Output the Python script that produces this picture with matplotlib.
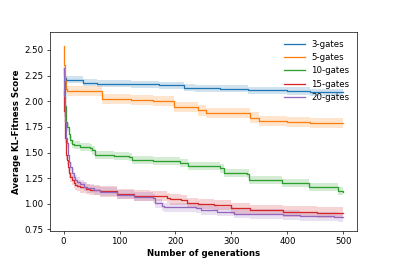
import matplotlib
matplotlib.use("Agg")
import matplotlib.pyplot as plt
import numpy as np

labels = ["3-gates", "5-gates", "10-gates", "15-gates", "20-gates"]

gens_3 = [0, 1, 3, 5, 35, 60, 120, 170, 215, 235, 280, 330, 400, 440, 500]
vals_3 = [2.32, 2.26, 2.23, 2.21, 2.18, 2.17, 2.165, 2.155, 2.13, 2.125, 2.12, 2.105, 2.10, 2.087, 2.087]

gens_5 = [0, 1, 2, 4, 6, 68, 120, 160, 198, 240, 255, 334, 349, 400, 440, 500]
vals_5 = [2.54, 2.35, 2.20, 2.12, 2.10, 2.02, 2.01, 2.0, 1.945, 1.91, 1.885, 1.84, 1.805, 1.80, 1.79, 1.79]

gens_10 = [0, 2, 4, 6, 9, 12, 15, 18, 30, 48, 51, 57, 90, 117, 123, 160, 198, 208, 222,
           280, 286, 328, 331, 390, 438, 490, 500]
vals_10 = [2.2, 1.95, 1.80, 1.75, 1.68, 1.62, 1.585, 1.57, 1.555, 1.545, 1.52, 1.475, 1.465,
           1.46, 1.425, 1.42, 1.415, 1.395, 1.37, 1.345, 1.30, 1.295, 1.23, 1.20, 1.165, 1.125, 1.117]

gens_15 = [0, 1, 2, 3, 4, 5, 6, 8, 10, 12, 15, 18, 21, 24, 30, 40, 48, 65, 95, 125, 155, 185,
           190, 210, 220, 240, 268, 300, 334, 393, 453, 500]
vals_15 = [2.11, 1.90, 1.75, 1.64, 1.55, 1.48, 1.43, 1.36, 1.30, 1.26, 1.23, 1.205, 1.185, 1.17,
           1.16, 1.145, 1.135, 1.12, 1.095, 1.08, 1.073, 1.06, 1.043, 1.035, 1.01, 0.997, 0.985,
           0.955, 0.94, 0.925, 0.915, 0.906]

gens_20 = [0, 1, 2, 3, 4, 5, 6, 8, 10, 12, 15, 18, 21, 24, 30, 36, 42, 55, 65, 95, 125, 160,
           163, 175, 180, 236, 245, 274, 304, 334, 393, 423, 483, 490, 500]
vals_20 = [2.32, 2.05, 1.90, 1.80, 1.70, 1.64, 1.59, 1.48, 1.41, 1.36, 1.30, 1.26, 1.235, 1.215,
           1.19, 1.165, 1.15, 1.13, 1.118, 1.09, 1.07, 1.053, 1.004, 0.975, 0.965, 0.955, 0.94,
           0.925, 0.905, 0.90, 0.89, 0.88, 0.875, 0.867, 0.867]

band_halfwidth = [0.035, 0.05, 0.04, 0.05, 0.045]

series = [(gens_3, vals_3), (gens_5, vals_5), (gens_10, vals_10), (gens_15, vals_15), (gens_20, vals_20)]
colors = ["C0", "C1", "C2", "C3", "C4"]

fig = plt.figure(figsize=(397 / 62, 264 / 62), dpi=62)
ax = fig.add_axes([0.125, 0.125, 0.775, 0.754])

for (g, v), lab, c, hw in zip(series, labels, colors, band_halfwidth):
    g = np.asarray(g)
    v = np.asarray(v)
    ax.fill_between(g, v - hw, v + hw, step="post", color=c, alpha=0.2, linewidth=0)
    ax.plot(g, v, drawstyle="steps-post", color=c, label=lab, linewidth=1.5)

ax.set_xlim(-25, 525)
ax.set_ylim(0.735, 2.675)
ax.set_yticks([0.75, 1.0, 1.25, 1.5, 1.75, 2.0, 2.25, 2.5])
ax.set_xticks([0, 100, 200, 300, 400, 500])
ax.set_xlabel("Number of generations", fontweight="bold")
ax.set_ylabel("Average KL-Fitness Score", fontweight="bold")
ax.legend(loc="upper right", frameon=False, handlelength=2.4)

fig.savefig("out.png", dpi=62)
